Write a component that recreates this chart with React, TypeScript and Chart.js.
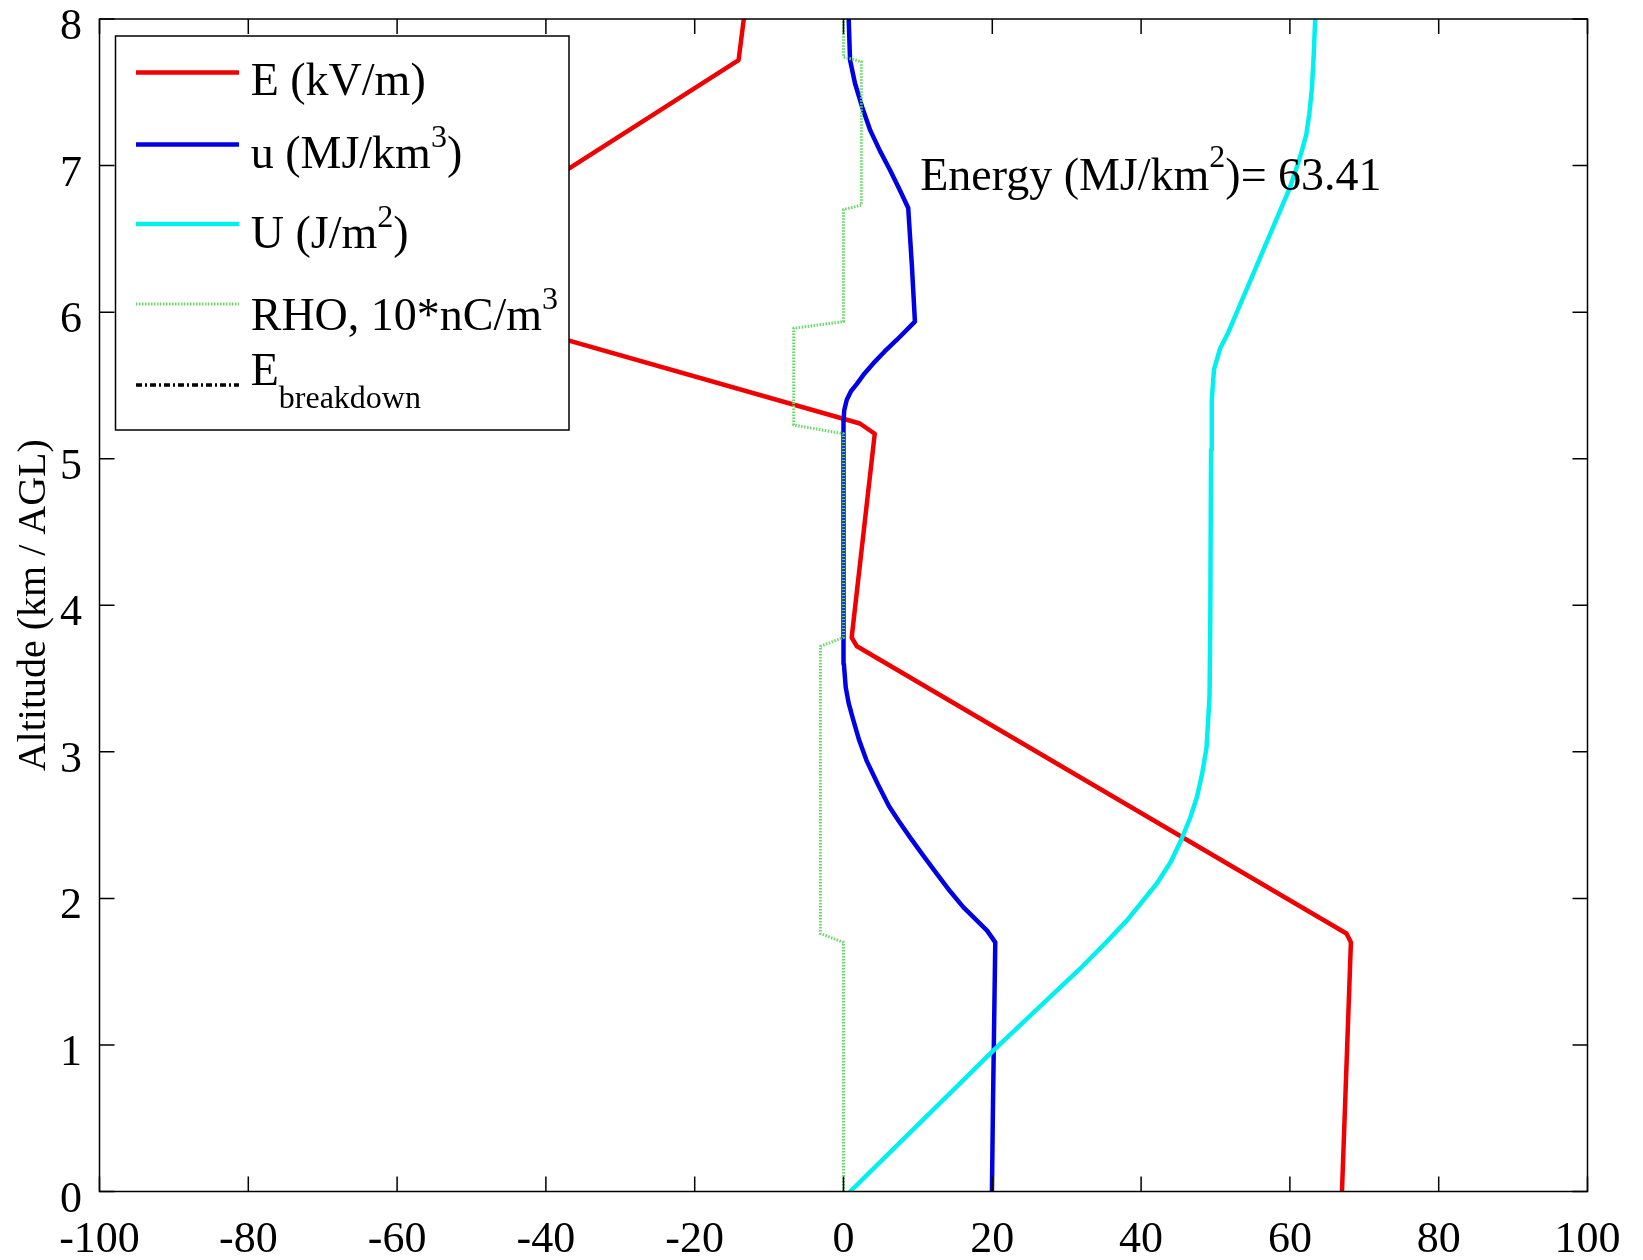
import React, { useEffect, useRef } from "react";
import { Chart, registerables } from "chart.js";

Chart.register(...registerables);

// ---------------- data ----------------
const altitudeTicks = [0, 1, 2, 3, 4, 5, 6, 7, 8];
const valueTicks = [-100, -80, -60, -40, -20, 0, 20, 40, 60, 80, 100];

// E (kV/m)
const eAlt = [0, 1.7, 1.76, 3.72, 3.78, 5.17, 5.24, 5.93, 6.73, 7.72, 8.0];
const eVal = [67.0, 68.2, 67.6, 1.8, 1.1, 4.2, 2.2, -45.5, -44.6, -14.1, -13.4];

// u (MJ/km^3)
const uAlt = [0, 0.62, 1.7, 1.78, 1.94, 2.05, 2.17, 2.3, 2.42, 2.53, 2.63, 2.78, 2.94, 3.08, 3.22, 3.33, 3.44, 3.6, 3.76, 4.5, 5.26, 5.33, 5.4, 5.46, 5.51, 5.58, 5.65, 5.73, 5.81, 5.935, 6.31, 6.71, 6.84, 6.97, 7.1, 7.24, 7.4, 7.56, 7.72, 8.0];
const uVal = [19.95, 20.1, 20.4, 19.3, 16.1, 14.3, 12.5, 10.6, 8.9, 7.4, 6.1, 4.6, 3.1, 2.1, 1.3, 0.7, 0.3, 0.05, 0.0, 0.0, 0.0, 0.1, 0.43, 1.0, 1.8, 2.8, 4.0, 5.5, 7.15, 9.6, 9.2, 8.7, 7.5, 6.25, 4.9, 3.6, 2.5, 1.55, 0.88, 0.7];

// U (J/m^2)
const bigUAlt = [0, 0.97, 1.52, 1.7, 1.85, 2.1, 2.25, 2.4, 2.55, 2.69, 2.85, 3.03, 3.38, 3.9, 5.06, 5.4, 5.61, 5.75, 5.86, 6.3, 6.85, 7.0, 7.1, 7.21, 7.35, 7.52, 7.75, 8.0];
const bigUVal = [0.9, 20.3, 31.8, 35.3, 38.1, 42.1, 44.0, 45.4, 46.6, 47.5, 48.2, 48.8, 49.2, 49.3, 49.4, 49.5, 49.8, 50.6, 51.7, 55.4, 60.0, 61.0, 61.6, 62.2, 62.6, 62.95, 63.2, 63.4];

// RHO, 10*nC/m^3
const rhoAlt = [0, 1.7, 1.76, 3.72, 3.78, 5.17, 5.23, 5.89, 5.935, 6.7, 6.73, 7.71, 7.74, 8.0];
const rhoVal = [0, 0, -3.1, -3.1, 0, 0, -6.7, -6.7, 0, 0, 2.4, 2.4, 0, 0];

// E breakdown (not inside the plotted range)
const breakdownAlt: number[] = [];
const breakdownVal: number[] = [];

const energyTotal = "63.41";
const yTitle = "Altitude (km / AGL)";

// ---------------- styling ----------------
const SERIF = '"Liberation Serif", "Times New Roman", serif';
const RED = "#f00000";
const BLUE = "#0000e6";
const CYAN = "#00f0f0";
const GREEN = "#66d966";
const LW = 4.5;

type Part = { t: string; s: number };

const legendItems: { color: string; width: number; dash: number[]; parts: Part[] }[] = [
  { color: RED, width: LW, dash: [], parts: [{ t: "E (kV/m)", s: 0 }] },
  { color: BLUE, width: LW, dash: [], parts: [{ t: "u (MJ/km", s: 0 }, { t: "3", s: 1 }, { t: ")", s: 0 }] },
  { color: CYAN, width: LW, dash: [], parts: [{ t: "U (J/m", s: 0 }, { t: "2", s: 1 }, { t: ")", s: 0 }] },
  { color: GREEN, width: 3, dash: [1.5, 1.5], parts: [{ t: "RHO, 10*nC/m", s: 0 }, { t: "3", s: 1 }] },
  { color: "#000", width: 3.5, dash: [6, 3, 2, 3], parts: [{ t: "E", s: 0 }, { t: "breakdown", s: -1 }] },
];

const toPts = (alt: number[], val: number[]) => alt.map((a, i) => ({ x: val[i], y: a }));

function drawRich(ctx: CanvasRenderingContext2D, x: number, y: number, parts: Part[], size: number, small: number, raise: number, lower: number) {
  let cx = x;
  ctx.textAlign = "left";
  ctx.textBaseline = "alphabetic";
  for (const p of parts) {
    const fs = p.s === 0 ? size : small;
    ctx.font = `${fs}px ${SERIF}`;
    const dy = p.s === 1 ? -raise : p.s === -1 ? lower : 0;
    ctx.fillText(p.t, cx, y + dy);
    cx += ctx.measureText(p.t).width;
  }
}

const framePlugin = {
  id: "matlabFrame",
  afterDatasetsDraw(chart: any) {
    const ctx: CanvasRenderingContext2D = chart.ctx;
    const { left, right, top, bottom } = chart.chartArea;
    const xs = chart.scales.x;
    const ys = chart.scales.y;
    ctx.save();
    ctx.strokeStyle = "#000";
    ctx.lineWidth = 1.5;
    ctx.setLineDash([]);
    ctx.strokeRect(left, top, right - left, bottom - top);
    const tl = 15;
    ctx.beginPath();
    for (const v of valueTicks) {
      const px = xs.getPixelForValue(v);
      ctx.moveTo(px, bottom);
      ctx.lineTo(px, bottom - tl);
      ctx.moveTo(px, top);
      ctx.lineTo(px, top + tl);
    }
    for (const v of altitudeTicks) {
      const py = ys.getPixelForValue(v);
      ctx.moveTo(left, py);
      ctx.lineTo(left + tl, py);
      ctx.moveTo(right, py);
      ctx.lineTo(right - tl, py);
    }
    ctx.stroke();

    // annotation
    ctx.fillStyle = "#000";
    const ax = xs.getPixelForValue(10.3);
    const ay = ys.getPixelForValue(6.83);
    drawRich(ctx, ax, ay, [
      { t: "Energy (MJ/km", s: 0 },
      { t: "2", s: 1 },
      { t: ")= " + energyTotal, s: 0 },
    ], 46, 32, 23, 23);

    // legend
    const bx = left + 16;
    const by = top + 17;
    const bw = 453.5;
    const bh = 394;
    ctx.fillStyle = "#fff";
    ctx.fillRect(bx, by, bw, bh);
    ctx.strokeStyle = "#000";
    ctx.lineWidth = 1.5;
    ctx.strokeRect(bx, by, bw, bh);
    const lineY = [53.5, 125.5, 205, 285, 366];
    const baseY = [76, 149, 229, 311, 366];
    legendItems.forEach((it, i) => {
      ctx.beginPath();
      ctx.strokeStyle = it.color;
      ctx.lineWidth = it.width;
      ctx.setLineDash(it.dash);
      ctx.moveTo(bx + 20.5, top + lineY[i]);
      ctx.lineTo(bx + 123.5, top + lineY[i]);
      ctx.stroke();
      ctx.setLineDash([]);
      ctx.fillStyle = "#000";
      drawRich(ctx, bx + 135.2, top + baseY[i], it.parts, 46, 32, 21, 23);
    });
    ctx.restore();
  },
};

export default function App() {
  const ref = useRef<HTMLCanvasElement>(null);
  useEffect(() => {
    if (!ref.current) return;
    const lineBase = {
      showLine: true,
      pointRadius: 0,
      pointHoverRadius: 0,
      borderCapStyle: "round" as const,
      borderJoinStyle: "round" as const,
      fill: false,
    };
    const chart = new Chart(ref.current, {
      type: "scatter",
      data: {
        datasets: [
          { ...lineBase, label: "E (kV/m)", data: toPts(eAlt, eVal), borderColor: RED, backgroundColor: RED, borderWidth: LW, order: 4 },
          { ...lineBase, label: "u (MJ/km3)", data: toPts(uAlt, uVal), borderColor: BLUE, backgroundColor: BLUE, borderWidth: LW, order: 3 },
          { ...lineBase, label: "U (J/m2)", data: toPts(bigUAlt, bigUVal), borderColor: CYAN, backgroundColor: CYAN, borderWidth: LW, order: 2 },
          { ...lineBase, label: "RHO, 10*nC/m3", data: toPts(rhoAlt, rhoVal), borderColor: GREEN, backgroundColor: GREEN, borderWidth: 3, borderDash: [1.5, 1.5], borderCapStyle: "butt" as const, order: 1 },
          { ...lineBase, label: "Ebreakdown", data: toPts(breakdownAlt, breakdownVal), borderColor: "#000", backgroundColor: "#000", borderWidth: 3, borderDash: [6, 3, 2, 3], order: 0 },
        ],
      },
      options: {
        animation: false,
        responsive: false,
        events: [],
        layout: { padding: { top: 19, right: 55.5, left: 0, bottom: 0 } },
        plugins: {
          legend: { display: false },
          tooltip: { enabled: false },
          title: { display: false },
        },
        scales: {
          x: {
            type: "linear",
            min: -100,
            max: 100,
            grid: { display: false },
            border: { display: false },
            afterBuildTicks: (s: any) => {
              s.ticks = valueTicks.map((v) => ({ value: v }));
            },
            afterFit: (s: any) => {
              s.height = 68.5;
              s.paddingLeft = 0;
              s.paddingRight = 0;
            },
            ticks: {
              autoSkip: false,
              maxRotation: 0,
              minRotation: 0,
              color: "#000",
              padding: 15,
              font: { family: SERIF, size: 44, lineHeight: 1.2 },
              callback: (v: any) => String(v),
            },
          },
          y: {
            type: "linear",
            min: 0,
            max: 8,
            grid: { display: false },
            border: { display: false },
            afterBuildTicks: (s: any) => {
              s.ticks = altitudeTicks.map((v) => ({ value: v }));
            },
            afterFit: (s: any) => {
              s.width = 99.5;
              s.paddingTop = 0;
              s.paddingBottom = 0;
            },
            ticks: {
              autoSkip: false,
              color: "#000",
              padding: 9.5,
              labelOffset: 8.5,
              font: { family: SERIF, size: 44, lineHeight: 1.2 },
              callback: (v: any) => String(v),
            },
            title: {
              display: true,
              text: yTitle,
              color: "#000",
              font: { family: SERIF, size: 40, lineHeight: 1.2 },
              padding: { top: 10, bottom: 0 },
            },
          },
        },
      },
      plugins: [framePlugin],
    } as any);
    return () => chart.destroy();
  }, []);

  return (
    <div style={{ position: "absolute", left: 0, top: 0, width: 1643, height: 1260, background: "#fff" }}>
      <canvas ref={ref} width={1643} height={1260} style={{ display: "block", width: 1643, height: 1260 }} />
    </div>
  );
}
